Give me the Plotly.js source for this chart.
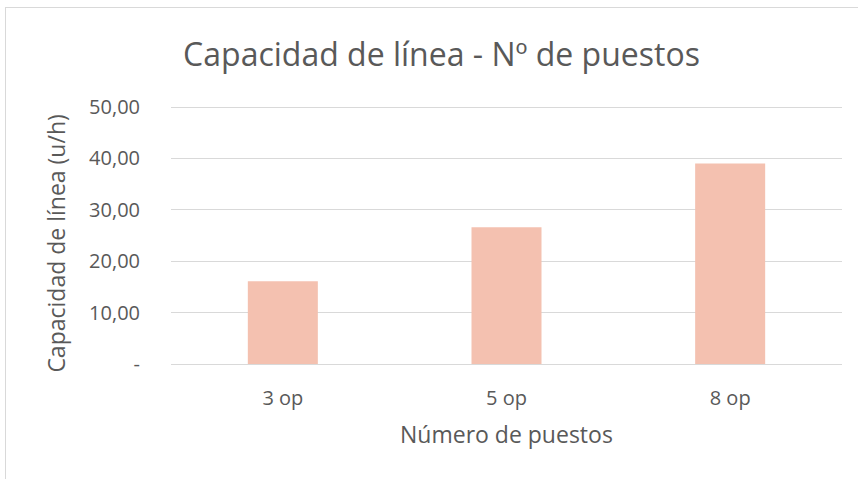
<!DOCTYPE html>
<html>
<head>
<meta charset="utf-8">
<script src="https://cdn.plot.ly/plotly-3.0.1.min.js"></script>
<style>
  html, body { margin: 0; padding: 0; background: #ffffff; }
  #wrap { position: relative; width: 858px; height: 479px; overflow: hidden; }
  #chart { position: absolute; left: 0; top: 0; width: 858px; height: 479px; }
  #frame { position: absolute; left: 5px; top: 7px; width: 900px; height: 520px;
           border: 1px solid #d9d9d9; pointer-events: none; }
</style>
</head>
<body>
<div id="wrap">
  <div id="chart"></div>
  <div id="frame"></div>
</div>
<script>
const categories = ["3 op", "5 op", "8 op"];
const capacity = [16.1, 26.6, 39.0];
const yTickValues = [0, 10, 20, 30, 40, 50];
const yTickLabels = ["-", "10,00", "20,00", "30,00", "40,00", "50,00"];
const chartTitle = "Capacidad de línea - Nº de puestos";
const xTitle = "Número de puestos";
const yTitle = "Capacidad de línea (u/h)";

const fontFam = "'Open Sans', 'Noto Sans', sans-serif";
const grey = "#595959";

const trace = {
  type: "bar",
  x: categories,
  y: capacity,
  marker: { color: "#F4C1B0", line: { width: 0 } },
  hoverinfo: "x+y"
};

const layout = {
  width: 858,
  height: 479,
  paper_bgcolor: "rgba(0,0,0,0)",
  plot_bgcolor: "rgba(0,0,0,0)",
  margin: { l: 171, r: 16, t: 106, b: 115, pad: 0 },
  bargap: 0.687,
  showlegend: false,
  font: { family: fontFam, color: grey },
  title: {
    text: chartTitle,
    font: { family: fontFam, size: 32, color: grey },
    x: 0.5146, xanchor: "center",
    y: 0.885, yanchor: "middle"
  },
  xaxis: {
    type: "category",
    tickfont: { family: fontFam, size: 20, color: grey },
    showgrid: false,
    showline: false,
    zeroline: false,
    ticks: "",
    ticklabelstandoff: 20
  },
  yaxis: {
    range: [0, 50.2],
    tickvals: yTickValues,
    ticktext: yTickLabels,
    tickfont: { family: fontFam, size: 20, color: grey },
    showgrid: true,
    gridcolor: "#d9d9d9",
    gridwidth: 1,
    zeroline: true,
    zerolinecolor: "#d9d9d9",
    zerolinewidth: 1,
    showline: false,
    ticks: "",
    ticklabelstandoff: 30
  },
  annotations: [
    {
      text: xTitle, xref: "paper", yref: "paper",
      x: 0.5, y: -0.27, xanchor: "center", yanchor: "middle",
      showarrow: false, font: { family: fontFam, size: 23, color: grey }
    },
    {
      text: yTitle, xref: "paper", yref: "paper",
      x: -0.172, y: 0.465, xanchor: "center", yanchor: "middle",
      textangle: -90, showarrow: false,
      font: { family: fontFam, size: 23, color: grey }
    }
  ]
};

Plotly.newPlot("chart", [trace], layout, { displayModeBar: false, staticPlot: true });
</script>
</body>
</html>
